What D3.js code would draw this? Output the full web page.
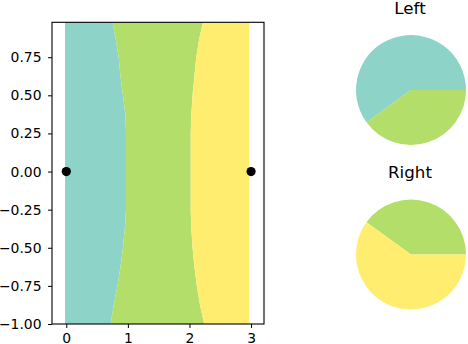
<!DOCTYPE html>
<html>
<head>
<meta charset="utf-8">
<script src="https://cdn.jsdelivr.net/npm/d3@7"></script>
<style>
  body { margin: 0; background: #fff; }
  text { font-family: "DejaVu Sans", sans-serif; }
</style>
</head>
<body>
<div id="chart"></div>
<script>
// colours of the three classes
var classColors = ["#8dd3c7", "#b3de69", "#ffed6f"];

// region boundaries, one x per y level
var yLevels   = [-1, -0.875, -0.75, -0.625, -0.5, -0.375, -0.25, 0, 0.25, 0.375, 0.5, 0.625, 0.75, 0.875, 0.979];
var leftEdge  = [0.72, 0.77, 0.83, 0.88, 0.92, 0.95, 0.97, 0.97, 0.97, 0.96, 0.92, 0.88, 0.85, 0.80, 0.75];
var rightEdge = [2.24, 2.17, 2.12, 2.08, 2.05, 2.03, 2.02, 2.02, 2.02, 2.03, 2.05, 2.08, 2.11, 2.16, 2.22];
var gridX = [-0.02, 2.97];

// the two black points
var pointX = [0, 3];
var pointY = [0, 0];

// tick labels
var xTicks = [0, 1, 2, 3];
var yTicks = [-1, -0.75, -0.5, -0.25, 0, 0.25, 0.5, 0.75];

// pie fractions per class
var pieTitles = ["Left", "Right"];
var leftPie  = [0.6, 0.4, 0];
var rightPie = [0, 0.4, 0.6];

var W = 468, H = 344;
var svg = d3.select("#chart").append("svg")
    .attr("width", W)
    .attr("height", H);

// main axes
var x = d3.scaleLinear().domain([-0.232, 3.21]).range([52, 264]);
var y = d3.scaleLinear().domain([-1, 0.979]).range([324, 22.3]);

var rows = yLevels.map(function(v, i) {
  return {y: v, a: gridX[0], b: leftEdge[i], c: rightEdge[i], d: gridX[1]};
});

var band = function(k0, k1) {
  return d3.area()
    .y(function(d) { return y(d.y); })
    .x0(function(d) { return x(d[k0]); })
    .x1(function(d) { return x(d[k1]); });
};

svg.append("path").datum(rows).attr("d", band("a", "b")).attr("fill", classColors[0]);
svg.append("path").datum(rows).attr("d", band("b", "c")).attr("fill", classColors[1]);
svg.append("path").datum(rows).attr("d", band("c", "d")).attr("fill", classColors[2]);

svg.selectAll("circle.pt")
  .data(pointX)
  .enter().append("circle")
    .attr("class", "pt")
    .attr("cx", function(d) { return x(d); })
    .attr("cy", function(d, i) { return y(pointY[i]); })
    .attr("r", 4.6)
    .attr("fill", "#000");

// axes
var xAxis = svg.append("g")
  .attr("transform", "translate(0,324)")
  .call(d3.axisBottom(x).tickValues(xTicks).tickFormat(d3.format("d")).tickSize(4).tickPadding(5.3));
var yAxis = svg.append("g")
  .attr("transform", "translate(52,0)")
  .call(d3.axisLeft(y).tickValues(yTicks).tickFormat(d3.format(".2f")).tickSize(4).tickPadding(6.5));

[xAxis, yAxis].forEach(function(g) {
  g.select(".domain").remove();
  g.selectAll("text").attr("font-size", 13.9).attr("font-family", "DejaVu Sans").attr("fill", "#000");
  g.selectAll("line").attr("stroke", "#000");
});

// spines
svg.append("rect")
  .attr("x", 52).attr("y", 22.3)
  .attr("width", 264 - 52).attr("height", 324 - 22.3)
  .attr("fill", "none")
  .attr("stroke", "#000")
  .attr("stroke-width", 1.1);

// pies, matplotlib style: start at 3 o'clock, counterclockwise
var pie = d3.pie().sort(null)
  .startAngle(Math.PI / 2)
  .endAngle(Math.PI / 2 - 2 * Math.PI);
var arc = d3.arc().innerRadius(0).outerRadius(55);

var pieCenters = [[411, 90], [411, 254.5]];
var titleY = [14, 178];

[leftPie, rightPie].forEach(function(vals, k) {
  var g = svg.append("g")
    .attr("transform", "translate(" + pieCenters[k][0] + "," + pieCenters[k][1] + ")");
  g.selectAll("path")
    .data(pie(vals))
    .enter().append("path")
      .attr("d", arc)
      .attr("fill", function(d, i) { return classColors[i]; });

  svg.append("text")
    .attr("x", pieCenters[k][0] - 1)
    .attr("y", titleY[k])
    .attr("text-anchor", "middle")
    .attr("font-size", 16.7)
    .attr("fill", "#000")
    .text(pieTitles[k]);
});
</script>
</body>
</html>
